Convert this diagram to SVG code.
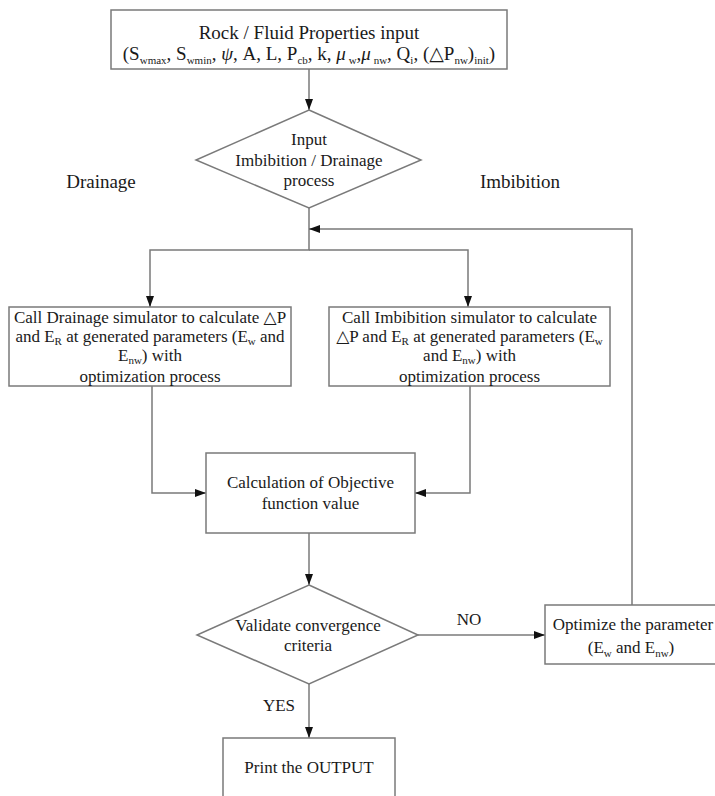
<svg xmlns="http://www.w3.org/2000/svg" width="715" height="796" viewBox="0 0 715 796">
<defs>
<style>
.box{fill:#fff;stroke:#7a7a7a;stroke-width:1.5}
.ln{fill:none;stroke:#7a7a7a;stroke-width:1.5}
text{font-family:"Liberation Serif","DejaVu Serif",serif;fill:#1a1a1a;text-anchor:middle}
.t17{font-size:17px}
.t19{font-size:19px}
.sub{font-size:11px}
.it{font-style:italic}
</style>
<marker id="ah" markerWidth="11" markerHeight="8" refX="11" refY="4" orient="auto" markerUnits="userSpaceOnUse">
<path d="M0,0 L11,4 L0,8 Z" fill="#111"/>
</marker>
</defs>
<rect width="715" height="796" fill="#fff"/>
<g id="connectors">
<path class="ln" d="M309,69 V110" marker-end="url(#ah)"/>
<path class="ln" d="M309,208 V250 H150 V307" marker-end="url(#ah)"/>
<path class="ln" d="M309,250 H468 V307" marker-end="url(#ah)"/>
<path class="ln" d="M152,386 V493 H206" marker-end="url(#ah)"/>
<path class="ln" d="M470,386 V493 H415" marker-end="url(#ah)"/>
<path class="ln" d="M309,533 V585" marker-end="url(#ah)"/>
<path class="ln" d="M418,635 H545" marker-end="url(#ah)"/>
<path class="ln" d="M632,605 V229 H309" marker-end="url(#ah)"/>
<path class="ln" d="M309,684 V738" marker-end="url(#ah)"/>
</g>
<g id="node-input">
<rect class="box" x="111" y="10" width="396" height="59"/>
<text class="t19" x="309" y="39">Rock / Fluid Properties input</text>
<text class="t19" x="309" y="60">(S<tspan class="sub" dy="4">wmax</tspan><tspan dy="-4">, S</tspan><tspan class="sub" dy="4">wmin</tspan><tspan dy="-4">, </tspan><tspan class="it">ψ</tspan>, A, L, P<tspan class="sub" dy="4">cb</tspan><tspan dy="-4">, k, </tspan><tspan class="it">μ</tspan><tspan class="sub" dy="4"> w</tspan><tspan dy="-4">,</tspan><tspan class="it">μ</tspan><tspan class="sub" dy="4"> nw</tspan><tspan dy="-4">, Q</tspan><tspan class="sub" dy="4">i</tspan><tspan dy="-4">, (△P</tspan><tspan class="sub" dy="4">nw</tspan><tspan dy="-4">)</tspan><tspan class="sub" dy="4">init</tspan><tspan dy="-4">)</tspan></text>
</g>
<g id="node-choice">
<polygon class="box" points="309,110 421,160 309,208 196,160"/>
<text class="t17" x="309" y="145">Input</text>
<text class="t17" x="309" y="166">Imbibition / Drainage</text>
<text class="t17" x="309" y="186">process</text>
</g>
<g id="labels">
<text class="t19" x="101" y="188">Drainage</text>
<text class="t19" x="520" y="188">Imbibition</text>
<text class="t17" x="469" y="625">NO</text>
<text class="t17" x="279" y="711">YES</text>
</g>
<g id="node-drainage">
<rect class="box" x="9" y="307" width="282" height="79"/>
<text class="t17" x="150" y="323">Call Drainage simulator to calculate △P</text>
<text class="t17" x="150" y="342">and E<tspan class="sub" dy="3">R</tspan><tspan dy="-3"> at generated parameters (E</tspan><tspan class="sub" dy="3">w</tspan><tspan dy="-3"> and</tspan></text>
<text class="t17" x="150" y="361">E<tspan class="sub" dy="3">nw</tspan><tspan dy="-3">) with</tspan></text>
<text class="t17" x="150" y="382">optimization process</text>
</g>
<g id="node-imbibition">
<rect class="box" x="329" y="307" width="281" height="79"/>
<text class="t17" x="469.5" y="323">Call Imbibition simulator to calculate</text>
<text class="t17" x="469.5" y="342">△P and E<tspan class="sub" dy="3">R</tspan><tspan dy="-3"> at generated parameters (E</tspan><tspan class="sub" dy="3">w</tspan></text>
<text class="t17" x="469.5" y="361">and E<tspan class="sub" dy="3">nw</tspan><tspan dy="-3">) with</tspan></text>
<text class="t17" x="469.5" y="382">optimization process</text>
</g>
<g id="node-objective">
<rect class="box" x="206" y="453" width="209" height="80"/>
<text class="t17" x="310.5" y="488">Calculation of Objective</text>
<text class="t17" x="310.5" y="509">function value</text>
</g>
<g id="node-validate">
<polygon class="box" points="309,585 418,635 309,684 197,635"/>
<text class="t17" x="308" y="631">Validate convergence</text>
<text class="t17" x="308" y="651">criteria</text>
</g>
<g id="node-optimize">
<rect class="box" x="545" y="605" width="180" height="59"/>
<text class="t17" x="633" y="630">Optimize the parameter</text>
<text class="t17" x="631" y="653">(E<tspan class="sub" dy="4">w</tspan><tspan dy="-4"> and E</tspan><tspan class="sub" dy="4">nw</tspan><tspan dy="-4">)</tspan></text>
</g>
<g id="node-output">
<rect class="box" x="223" y="738" width="172" height="70"/>
<text class="t17" x="309" y="773">Print the OUTPUT</text>
</g>
</svg>
